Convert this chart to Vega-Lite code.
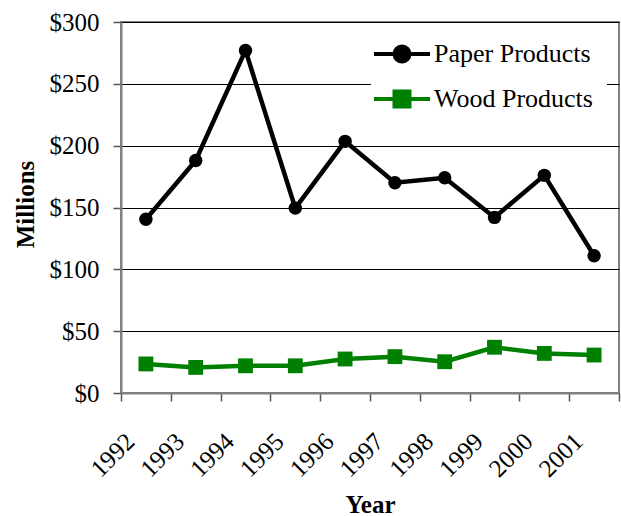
{
  "$schema": "https://vega.github.io/schema/vega-lite/v6.json",
  "width": 498,
  "height": 371,
  "autosize": {"type": "none"},
  "padding": {"left": 121, "top": 22, "right": 2, "bottom": 123},
  "background": "white",
  "config": {
    "font": "Liberation Serif",
    "axis": {"labelFont": "Liberation Serif", "titleFont": "Liberation Serif"},
    "legend": {"labelFont": "Liberation Serif", "titleFont": "Liberation Serif"},
    "view": {"stroke": "#808080", "strokeWidth": 2}
  },
  "data": {
    "values": [
      {"year": "1992", "series": "Paper Products", "value": 140.5},
      {"year": "1993", "series": "Paper Products", "value": 188},
      {"year": "1994", "series": "Paper Products", "value": 277},
      {"year": "1995", "series": "Paper Products", "value": 149.5},
      {"year": "1996", "series": "Paper Products", "value": 203.5},
      {"year": "1997", "series": "Paper Products", "value": 170},
      {"year": "1998", "series": "Paper Products", "value": 174},
      {"year": "1999", "series": "Paper Products", "value": 142},
      {"year": "2000", "series": "Paper Products", "value": 176},
      {"year": "2001", "series": "Paper Products", "value": 111},
      {"year": "1992", "series": "Wood Products", "value": 23.5},
      {"year": "1993", "series": "Wood Products", "value": 20.7},
      {"year": "1994", "series": "Wood Products", "value": 22},
      {"year": "1995", "series": "Wood Products", "value": 22},
      {"year": "1996", "series": "Wood Products", "value": 27.5},
      {"year": "1997", "series": "Wood Products", "value": 29.4},
      {"year": "1998", "series": "Wood Products", "value": 25.3},
      {"year": "1999", "series": "Wood Products", "value": 37},
      {"year": "2000", "series": "Wood Products", "value": 32},
      {"year": "2001", "series": "Wood Products", "value": 30.7}
    ]
  },
  "encoding": {
    "x": {
      "field": "year",
      "type": "ordinal",
      "scale": {"type": "band", "paddingInner": 0, "paddingOuter": 0},
      "axis": {
        "title": "Year",
        "titleFont": "Liberation Serif",
        "titleFontSize": 25,
        "titleFontWeight": "bold",
        "titleColor": "black",
        "titleBaseline": "alphabetic",
        "titleY": 119,
        "labelFont": "Liberation Serif",
        "labelAngle": -45,
        "labelAlign": "right",
        "labelBaseline": "middle",
        "labelFontSize": 25,
        "labelColor": "black",
        "labelPadding": 36,
        "labelOffset": -16,
        "tickBand": "extent",
        "tickSize": 8,
        "tickColor": "#555555",
        "tickWidth": 1.5,
        "domainColor": "#808080",
        "domainWidth": 2,
        "grid": false
      }
    },
    "y": {
      "field": "value",
      "type": "quantitative",
      "scale": {"domain": [0, 300], "nice": false},
      "axis": {
        "title": "Millions",
        "titleFont": "Liberation Serif",
        "titleFontSize": 25,
        "titleFontWeight": "bold",
        "titleColor": "black",
        "titleAngle": -90,
        "titleAlign": "center",
        "titleBaseline": "alphabetic",
        "titleX": -88,
        "titleY": 182,
        "values": [0, 50, 100, 150, 200, 250, 300],
        "format": "$,d",
        "labelFont": "Liberation Serif",
        "labelFontSize": 25,
        "labelColor": "black",
        "labelPadding": 14,
        "tickSize": 8,
        "tickColor": "#555555",
        "tickWidth": 1.5,
        "domainColor": "#808080",
        "domainWidth": 2,
        "grid": true,
        "gridColor": "#000000",
        "gridWidth": 1
      }
    },
    "color": {
      "field": "series",
      "type": "nominal",
      "scale": {"domain": ["Paper Products", "Wood Products"], "range": ["#000000", "#008000"]},
      "legend": {
        "title": null,
        "orient": "none",
        "legendX": 250,
        "legendY": 1,
        "padding": 14,
        "fillColor": "white",
        "strokeColor": null,
        "symbolSize": 900,
        "symbolStrokeWidth": 4,
        "labelFont": "Liberation Serif",
        "labelFontSize": 26,
        "labelColor": "black",
        "labelOffset": 15,
        "labelBaseline": "middle",
        "rowPadding": 12,
        "labelLimit": 300,
        "encode": {
          "symbols": {
            "update": {
              "shape": {"signal": "datum.value === 'Paper Products' ? 'M-1.87,0H1.87M-0.5,0A0.5,0.5 0 1,1 0.5,0A0.5,0.5 0 1,1 -0.5,0Z' : 'M-1.87,0H1.87M-0.5,-0.5H0.5V0.5H-0.5Z'"},
              "fill": {"scale": "color", "field": "value"},
              "stroke": {"scale": "color", "field": "value"},
              "strokeWidth": {"value": 4},
              "opacity": {"value": 1},
              "fillOpacity": {"value": 1},
              "strokeOpacity": {"value": 1}
            }
          }
        }
      }
    }
  },
  "layer": [
    {
      "mark": {"type": "line", "strokeWidth": 4.5}
    },
    {
      "transform": [{"filter": "datum.series === 'Paper Products'"}],
      "mark": {"type": "point", "filled": true, "opacity": 1, "shape": "circle", "size": 180}
    },
    {
      "transform": [{"filter": "datum.series === 'Wood Products'"}],
      "mark": {"type": "point", "filled": true, "opacity": 1, "shape": "square", "size": 220}
    }
  ]
}
